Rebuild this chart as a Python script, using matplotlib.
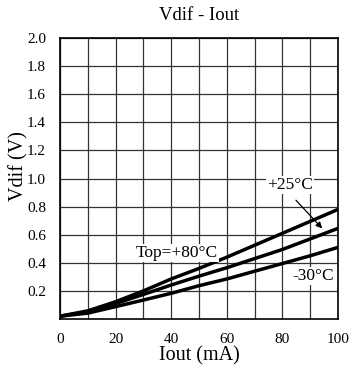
import numpy as np
import matplotlib.pyplot as plt
from matplotlib.ticker import MultipleLocator

plt.rcParams['font.family'] = ['Liberation Serif', 'DejaVu Serif']

# data
iout = [0, 10, 20, 30, 40, 50, 60, 70, 80, 90, 100]
v_80 = [0.02, 0.058, 0.123, 0.20, 0.285, 0.36, 0.44, 0.525, 0.61, 0.695, 0.78]
v_25 = [0.02, 0.052, 0.11, 0.175, 0.242, 0.305, 0.365, 0.43, 0.495, 0.57, 0.645]
v_m30 = [0.02, 0.042, 0.088, 0.135, 0.183, 0.237, 0.285, 0.34, 0.395, 0.45, 0.51]

x_ticks = [0, 20, 40, 60, 80, 100]
y_ticks = [0.2, 0.4, 0.6, 0.8, 1.0, 1.2, 1.4, 1.6, 1.8, 2.0]

fig = plt.figure(figsize=(3.5, 3.7), dpi=100)
ax = fig.add_axes([0.1714, 0.1378, 0.7943, 0.7595])

for v in (v_80, v_25, v_m30):
	ax.plot(iout, v, color='black', lw=2.5, solid_capstyle='butt', zorder=3)

ax.set_xlim(0, 100)
ax.set_ylim(0, 2.0)
ax.set_xticks(x_ticks)
ax.xaxis.set_minor_locator(MultipleLocator(10))
ax.set_yticks(y_ticks)
ax.set_yticklabels(['%.1f' % t for t in y_ticks])
ax.grid(True, which='both', color='#333333', lw=0.9)
ax.tick_params(which='both', length=0, labelsize=11)
ax.tick_params(axis='x', pad=10)
ax.tick_params(axis='y', pad=10)
for s in ax.spines.values():
	s.set_linewidth(1.2)
	s.set_zorder(4)

ax.set_title('Vdif - Iout', fontsize=13.5, pad=13)
ax.set_xlabel('Iout (mA)', fontsize=14.5, labelpad=0)
ax.set_ylabel('Vdif (V)', fontsize=14.5)
ax.yaxis.set_label_coords(-0.115, 0.545)

box = dict(facecolor='white', edgecolor='none', pad=0.5)
ax.text(82.7, 0.955, '+25°C', ha='center', va='center', fontsize=12.5, bbox=box, zorder=5)
ax.text(42.1, 0.47, 'Top=+80°C', ha='center', va='center', fontsize=12.5, bbox=box, zorder=5)
ax.text(91.2, 0.306, '-30°C', ha='center', va='center', fontsize=12.5, bbox=box, zorder=5)
ax.annotate('', xy=(95.0, 0.63), xytext=(84.2, 0.86),
	arrowprops=dict(arrowstyle='-|>', color='black', lw=0.9, mutation_scale=9), zorder=5)

fig.savefig('out.png', dpi=100)
